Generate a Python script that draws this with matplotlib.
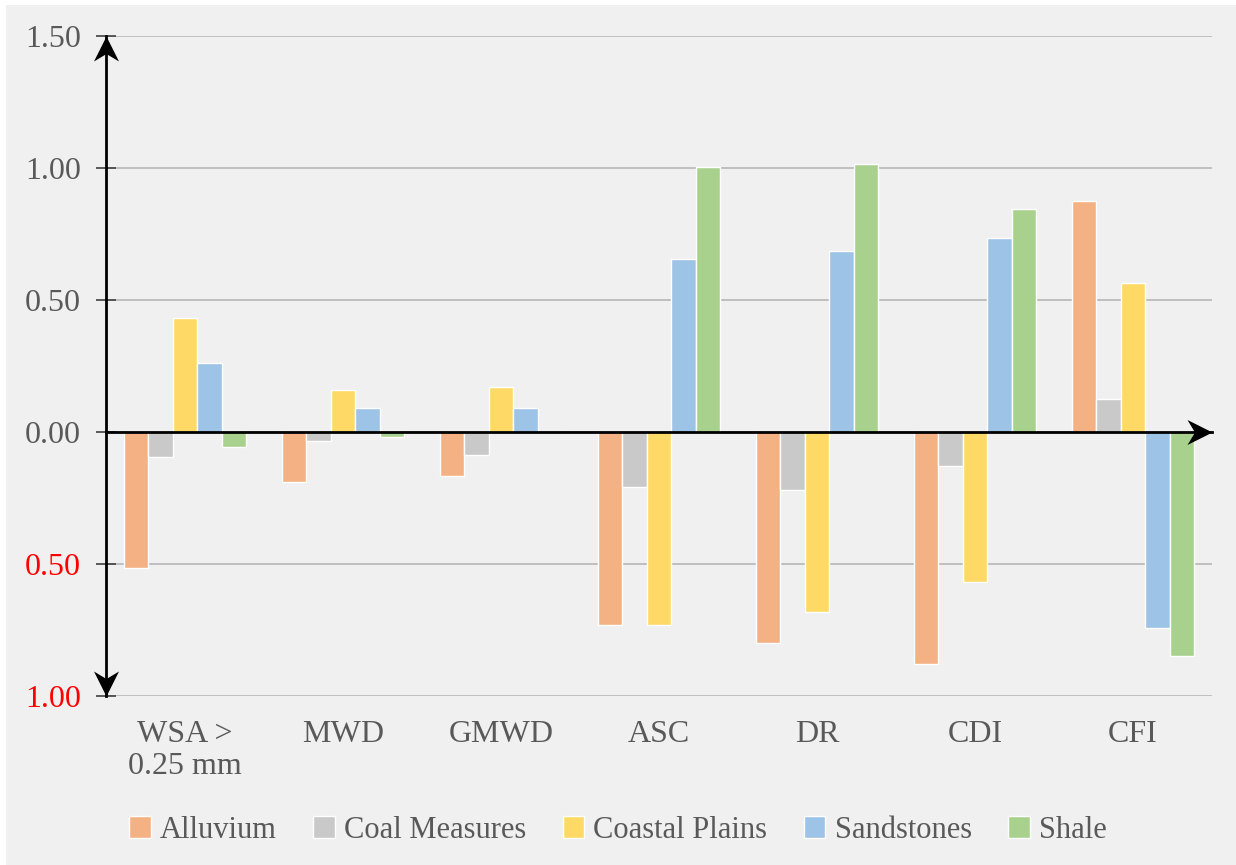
import numpy as np
import matplotlib.pyplot as plt
from matplotlib.patches import Rectangle
from matplotlib.path import Path

plt.rcParams['font.family'] = ['Liberation Serif', 'DejaVu Serif']

# Indeks dan nilai tiap litologi
categories = ['WSA >\n0.25 mm', 'MWD', 'GMWD', 'ASC', 'DR', 'CDI', 'CFI']
series_names = ['Alluvium', 'Coal Measures', 'Coastal Plains', 'Sandstones', 'Shale']
alluvium = [-0.515, -0.19, -0.167, -0.73, -0.80, -0.88, 0.875]
coal_measures = [-0.095, -0.035, -0.087, -0.21, -0.22, -0.13, 0.126]
coastal_plains = [0.43, 0.16, 0.17, -0.73, -0.68, -0.57, 0.566]
sandstones = [0.26, 0.09, 0.09, 0.655, 0.686, 0.736, -0.741]
shale = [-0.057, -0.02, 0.0, 1.005, 1.015, 0.846, -0.85]
colors = ['#F4B183', '#C9C9C9', '#FFD966', '#9DC3E6', '#A9D18E']
yticks = [-1.0, -0.5, 0.0, 0.5, 1.0, 1.5]

text_color = '#595959'


def stealth(angle):
    # kepala panah model "stealth", ujung di titik (0, 0)
    pts = np.array([(0, 0), (-0.5, -1), (0, -0.7), (0.5, -1), (0, 0)])
    a = np.deg2rad(angle)
    rot = np.array([[np.cos(a), -np.sin(a)], [np.sin(a), np.cos(a)]])
    pts = pts @ rot.T
    return Path(pts, [Path.MOVETO, Path.LINETO, Path.LINETO, Path.LINETO, Path.CLOSEPOLY])


fig = plt.figure(figsize=(12.36, 8.65), dpi=100)
fig.patch.set_facecolor('white')
fig.patches.append(Rectangle((6 / 1236, 0), 1, 1 - 5 / 865, transform=fig.transFigure,
                             facecolor='#F0F0F0', edgecolor='none', zorder=-10))

ax = fig.add_axes([106 / 1236, 1 - 696 / 865, (1212 - 106) / 1236, (696 - 36) / 865])
ax.set_facecolor('none')

x = np.arange(len(categories))
width = 0.155
data = [alluvium, coal_measures, coastal_plains, sandstones, shale]
for i, (vals, name, c) in enumerate(zip(data, series_names, colors)):
    offset = (i - 2) * width
    ax.bar(x + offset, vals, width, color=c, edgecolor='white', linewidth=1.0,
           label=name, zorder=3)

ax.set_xlim(-0.5, 6.5)
ax.set_ylim(-1.0, 1.5)

# Garis grid horizontal
for yv in yticks:
    ax.axhline(yv, color='#BFBFBF', linewidth=1.4, zorder=1)

ax.set_yticks(yticks)
ax.set_yticklabels(['%.2f' % abs(v) for v in yticks], fontsize=23)
for lbl, v in zip(ax.get_yticklabels(), yticks):
    lbl.set_color('red' if v < 0 else text_color)
ax.tick_params(axis='y', direction='inout', length=14, width=1.2, color='#404040', pad=11)

ax.set_xticks(x)
ax.set_xticklabels(categories, fontsize=23, color=text_color, linespacing=1.15)
ax.tick_params(axis='x', length=0, pad=17)

for s in ax.spines.values():
    s.set_visible(False)

# Sumbu dengan panah
ax.plot([-0.5, -0.5], [-1.0, 1.5], color='black', lw=2, zorder=5, clip_on=False)
ax.plot([-0.5, 6.5], [0, 0], color='black', lw=2, zorder=5, clip_on=False)
ax.plot([-0.5], [1.5], marker=stealth(0), ms=36, color='black', mew=0, zorder=6, clip_on=False)
ax.plot([-0.5], [-1.0], marker=stealth(180), ms=36, color='black', mew=0, zorder=6, clip_on=False)
ax.plot([6.5], [0], marker=stealth(-90), ms=36, color='black', mew=0, zorder=6, clip_on=False)

leg = fig.legend(loc='center', bbox_to_anchor=(0.5, 1 - 830 / 865), ncol=5, frameon=False,
                 fontsize=22, handlelength=0.7, handleheight=0.7, handletextpad=0.3,
                 columnspacing=1.2)
for t in leg.get_texts():
    t.set_color(text_color)

fig.savefig('out.png', dpi=100, facecolor=fig.get_facecolor())
